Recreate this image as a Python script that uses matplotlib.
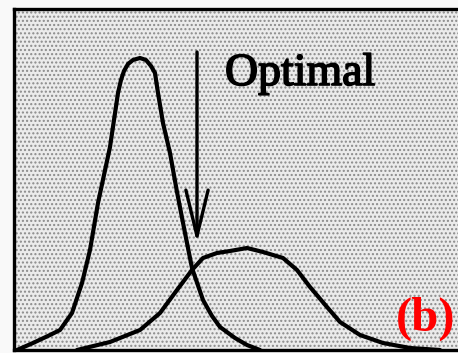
import matplotlib
matplotlib.use("Agg")

import matplotlib.pyplot as plt
import matplotlib.patheffects as pe
from matplotlib.patches import Rectangle

# values (x position, height above baseline, in px)
narrow_x = [17, 33, 50, 60, 72, 82, 90, 98, 110, 118, 121, 124, 128, 133, 140,
            146, 151, 155, 158, 163, 170, 177, 185, 192, 203, 212, 220, 235, 247, 260]
narrow_y = [0, 7, 15, 20, 37, 67, 100, 147, 203, 257, 270, 279, 286, 290, 292,
            290, 284, 277, 257, 227, 197, 158, 117, 82, 50, 34, 23, 12, 5, 0]

wide_x = [77, 110, 140, 160, 177, 192, 203, 217, 230, 247, 263, 283, 297, 310,
          327, 340, 360, 383, 410, 440]
wide_y = [0, 8, 20, 37, 60, 80, 92, 97, 99, 102, 98, 92, 80, 63,
          43, 28, 15, 7, 2, 0]

optimal_x = 197
arrow_top = 298
arrow_tip = 107

plt.rcParams['hatch.linewidth'] = 1.0

W, H = 458, 353
fig = plt.figure(figsize=(W / 100, H / 100), dpi=100)
fig.patch.set_facecolor('#f9f9f9')

left, right, bottom, top = 13.5, 470, 350, 8.5
ax = fig.add_axes([left / W, (H - bottom) / H, (right - left) / W, (bottom - top) / H])
ax.set_xlim(left, right)
ax.set_ylim(0, bottom - top)

# stippled background
ax.add_patch(Rectangle((0, 0), 1, 1, transform=ax.transAxes, facecolor='#ebebeb',
                       edgecolor='#8a8a8a', hatch='....', lw=0, zorder=0))

ax.plot(narrow_x, narrow_y, color='black', lw=3.0, solid_joinstyle='round',
        solid_capstyle='round', zorder=3)
ax.plot(wide_x, wide_y, color='black', lw=3.0, solid_joinstyle='round',
        solid_capstyle='round', zorder=3)

ax.annotate('', xy=(optimal_x, arrow_tip), xytext=(optimal_x, arrow_top),
            arrowprops=dict(arrowstyle='->,head_length=3.3,head_width=0.8',
                            lw=2.4, color='black', shrinkA=0, shrinkB=0),
            zorder=4)

ax.text(225, 350 - 85, 'Optimal', ha='left', va='baseline',
        fontfamily='Liberation Serif', fontsize=33, color='black',
        path_effects=[pe.withStroke(linewidth=1.2, foreground='black')], zorder=5)

ax.text(396, 350 - 331, '(b)', ha='left', va='baseline',
        fontfamily='Liberation Serif', fontweight='bold', fontsize=35,
        color='#ff0000', zorder=5)

ax.set_xticks([])
ax.set_yticks([])
for side in ['left', 'top', 'bottom']:
    ax.spines[side].set_linewidth(2.4)
    ax.spines[side].set_color('black')
ax.spines['right'].set_visible(False)

fig.savefig('out.png', dpi=100)
